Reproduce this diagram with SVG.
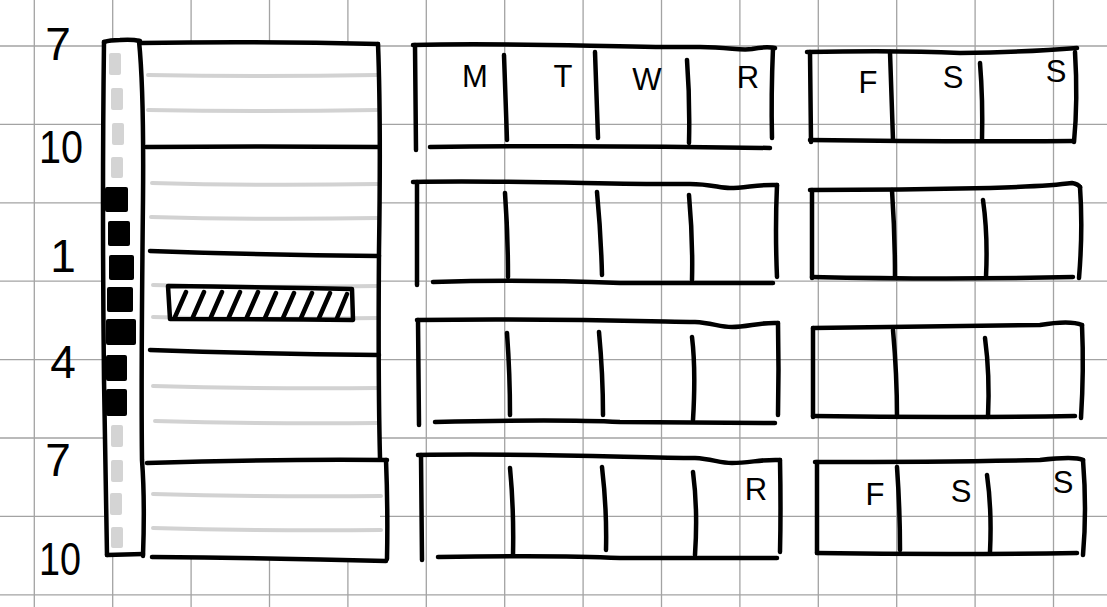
<svg xmlns="http://www.w3.org/2000/svg" width="1107" height="607" viewBox="0 0 1107 607">
<style>
.grid line{stroke:#a3a3a3;stroke-width:1.3}
.ink{fill:none;stroke:#000;stroke-width:4.5;stroke-linecap:round;stroke-linejoin:round}
.faint{fill:none;stroke:#d2d2d2;stroke-width:4;stroke-linecap:round}
.dash{fill:#d4d4d4}
.blk{fill:#000}
.hour{font-family:"Liberation Sans",Arial,sans-serif;font-size:46px;fill:#000;text-anchor:middle}
.day{font-family:"Liberation Sans",Arial,sans-serif;font-size:31px;fill:#000;text-anchor:middle}
</style>
<rect width="1107" height="607" fill="#fff"/>
<g class="grid" id="grid">
<line x1="34.3" y1="0" x2="34.3" y2="607"/><line x1="112.7" y1="0" x2="112.7" y2="607"/><line x1="191.1" y1="0" x2="191.1" y2="607"/><line x1="269.5" y1="0" x2="269.5" y2="607"/><line x1="347.9" y1="0" x2="347.9" y2="607"/><line x1="426.3" y1="0" x2="426.3" y2="607"/><line x1="504.7" y1="0" x2="504.7" y2="607"/><line x1="583.1" y1="0" x2="583.1" y2="607"/><line x1="661.5" y1="0" x2="661.5" y2="607"/><line x1="739.9" y1="0" x2="739.9" y2="607"/><line x1="818.3" y1="0" x2="818.3" y2="607"/><line x1="896.7" y1="0" x2="896.7" y2="607"/><line x1="975.1" y1="0" x2="975.1" y2="607"/><line x1="1053.5" y1="0" x2="1053.5" y2="607"/>
<line x1="0" y1="46" x2="1107" y2="46"/><line x1="0" y1="124.4" x2="1107" y2="124.4"/><line x1="0" y1="202.8" x2="1107" y2="202.8"/><line x1="0" y1="281.2" x2="1107" y2="281.2"/><line x1="0" y1="359.6" x2="1107" y2="359.6"/><line x1="0" y1="438" x2="1107" y2="438"/><line x1="0" y1="516.4" x2="1107" y2="516.4"/><line x1="0" y1="594.8" x2="1107" y2="594.8"/>
</g>
<g id="hour-labels">
<text class="hour" x="58" y="60">7</text>
<text class="hour" x="61" y="163" textLength="44" lengthAdjust="spacingAndGlyphs">10</text>
<text class="hour" x="63" y="272">1</text>
<text class="hour" x="63" y="378">4</text>
<text class="hour" x="58" y="476">7</text>
<text class="hour" x="60" y="575" textLength="42" lengthAdjust="spacingAndGlyphs">10</text>
</g>
<g id="day-column">
<rect x="104" y="41" width="38" height="514" fill="#fff"/>
<rect x="142" y="43" width="238" height="516" fill="#fff"/>
<g id="faint-lines">
<path class="faint" d="M148,75 Q260,77 377,75"/>
<path class="faint" d="M148,110 Q260,112 377,110"/>
<path class="faint" d="M152,183 Q260,186 378,184"/>
<path class="faint" d="M151,217 Q260,220 378,218"/>
<path class="faint" d="M153,285 Q260,288 379,286"/>
<path class="faint" d="M153,317 Q260,320 379,318"/>
<path class="faint" d="M153,386 Q260,389 379,388"/>
<path class="faint" d="M155,421 Q260,424 379,423"/>
<path class="faint" d="M153,494 Q260,497 381,496"/>
<path class="faint" d="M153,528 Q260,531 381,530"/>
</g>
<g id="slots">
<rect class="dash" x="109" y="53" width="12" height="22" rx="2"/>
<rect class="dash" x="111" y="88" width="12" height="22" rx="2"/>
<rect class="dash" x="112" y="123" width="12" height="22" rx="2"/>
<rect class="dash" x="111" y="157" width="12" height="21" rx="2"/>
<rect class="blk" x="105" y="187" width="23" height="25" rx="2"/>
<rect class="blk" x="108" y="221" width="22" height="25" rx="2"/>
<rect class="blk" x="109" y="255" width="25" height="25" rx="2"/>
<rect class="blk" x="107" y="287" width="26" height="25" rx="2"/>
<rect class="blk" x="106" y="319" width="30" height="26" rx="2"/>
<rect class="blk" x="106" y="355" width="21" height="26" rx="2"/>
<rect class="blk" x="106" y="389" width="21" height="27" rx="2"/>
<rect class="dash" x="111" y="425" width="12" height="22" rx="2"/>
<rect class="dash" x="111" y="460" width="12" height="22" rx="2"/>
<rect class="dash" x="110" y="493" width="12" height="22" rx="2"/>
<rect class="dash" x="111" y="527" width="12" height="21" rx="2"/>
</g>
<g id="column-frame">
<path class="ink" d="M104,42 Q110,40 120,40 Q132,39 140,41"/>
<path class="ink" d="M104,42 Q102,200 104,380 Q106,500 107,555"/>
<path class="ink" d="M107,555 L143,554"/>
<path class="ink" d="M139,41 Q144,90 143,200 Q141,380 142,460 Q145,500 143,556"/>
<path class="ink" d="M140,43 Q260,41 378,44"/>
<path class="ink" d="M378,44 Q381,120 379,250 Q378,380 380,458"/>
<path class="ink" d="M146,147 Q260,146 379,147"/>
<path class="ink" d="M150,251 Q260,255 379,256"/>
<path class="ink" d="M150,350 Q260,354 379,355"/>
<path class="ink" d="M147,463 Q270,459 387,460"/>
<path class="ink" d="M386,460 Q388,510 387,559"/>
<path class="ink" d="M152,557 Q270,558 386,561"/>
</g>
<g id="busy-block">
<path class="ink" d="M168,286 Q260,287 352,289 L353,320 Q260,319 170,319 Z" fill="#fff"/>
<path class="ink" d="M175,317 L186,292 M193,317 L204,292 M211,317 L222,292 M229,317 L240,292 M247,317 L258,292 M265,318 L276,293 M283,318 L294,293 M301,318 L312,293 M319,318 L330,293 M337,318 L347,294"/>
</g>
</g>
<g id="week-1">
<g id="week-1-weekdays">
<path class="ink" d="M413,45 C520,42 620,48 700,47 C730,47 740,51 752,49 C762,47 770,47 775,48"/>
<path class="ink" d="M415,45 L416,150"/>
<path class="ink" d="M773,48 Q771,95 772,138"/>
<path class="ink" d="M430,147 Q600,145 770,148"/>
<path class="ink" d="M504,55 L507,140 M595,52 L598,138 M687,60 Q690,100 689,143"/>
<text class="day" x="475" y="87">M</text>
<text class="day" x="563" y="87">T</text>
<text class="day" x="647" y="90">W</text>
<text class="day" x="748" y="88">R</text>
</g>
<g id="week-1-weekend">
<path class="ink" d="M807,52 Q900,50 960,53 Q1030,52 1077,48"/>
<path class="ink" d="M810,52 L811,142"/>
<path class="ink" d="M1075,52 Q1078,100 1074,142"/>
<path class="ink" d="M810,140 Q950,142 1073,141"/>
<path class="ink" d="M890,52 L893,140 M980,63 Q983,100 982,140"/>
<text class="day" x="868" y="93">F</text>
<text class="day" x="953" y="88">S</text>
<text class="day" x="1056" y="82">S</text>
</g>
</g>
<g id="week-2">
<g id="week-2-weekdays">
<path class="ink" d="M413,182 C520,180 620,185 690,184 C710,184 720,188 730,188 C745,188 760,184 777,185"/>
<path class="ink" d="M417,182 L417,285"/>
<path class="ink" d="M777,185 Q775,230 777,277"/>
<path class="ink" d="M433,282 Q520,279 620,283 L773,283"/>
<path class="ink" d="M505,193 Q508,235 508,277 M597,192 Q601,235 602,275 M689,195 Q693,240 692,280"/>
</g>
<g id="week-2-weekend">
<path class="ink" d="M810,190 Q900,190 990,188 Q1050,186 1072,183 Q1078,184 1080,187"/>
<path class="ink" d="M812,190 L812,278"/>
<path class="ink" d="M1080,187 Q1083,230 1079,278"/>
<path class="ink" d="M812,277 Q950,280 1073,277"/>
<path class="ink" d="M892,190 Q895,235 895,277 M983,200 Q988,235 986,277"/>
</g>
</g>
<g id="week-3">
<g id="week-3-weekdays">
<path class="ink" d="M417,320 C540,318 640,321 695,322 C712,323 720,327 732,327 C748,327 760,322 778,323"/>
<path class="ink" d="M418,320 L419,425"/>
<path class="ink" d="M778,323 Q779,370 778,415"/>
<path class="ink" d="M435,422 Q560,419 620,422 L775,423"/>
<path class="ink" d="M507,333 Q510,375 510,415 M599,332 Q603,375 603,415 M692,337 Q696,370 693,420"/>
</g>
<g id="week-3-weekend">
<path class="ink" d="M813,328 Q950,326 1040,325 Q1070,320 1082,325"/>
<path class="ink" d="M813,328 L813,417"/>
<path class="ink" d="M1082,325 Q1084,370 1081,418"/>
<path class="ink" d="M813,416 Q950,418 1075,416"/>
<path class="ink" d="M893,330 Q897,375 897,417 M985,338 Q990,375 988,417"/>
</g>
</g>
<g id="week-4">
<g id="week-4-weekdays">
<path class="ink" d="M418,455 C540,453 640,458 695,458 C712,459 720,463 732,463 C750,463 762,459 780,460"/>
<path class="ink" d="M421,455 L422,560"/>
<path class="ink" d="M780,460 Q781,510 780,552"/>
<path class="ink" d="M438,557 Q560,555 620,558 L777,558"/>
<path class="ink" d="M510,468 Q514,510 513,555 M602,467 Q607,510 606,550 M693,472 Q698,510 695,555"/>
<text class="day" x="756" y="500">R</text>
</g>
<g id="week-4-weekend">
<path class="ink" d="M815,462 Q950,462 1040,460 Q1075,456 1083,460"/>
<path class="ink" d="M817,462 L817,553"/>
<path class="ink" d="M1083,460 Q1087,510 1083,555"/>
<path class="ink" d="M817,553 Q950,555 1077,553"/>
<path class="ink" d="M897,467 Q900,510 900,550 M987,475 Q992,510 990,552"/>
<text class="day" x="875" y="505">F</text>
<text class="day" x="961" y="502">S</text>
<text class="day" x="1063" y="493">S</text>
</g>
</g>
</svg>
